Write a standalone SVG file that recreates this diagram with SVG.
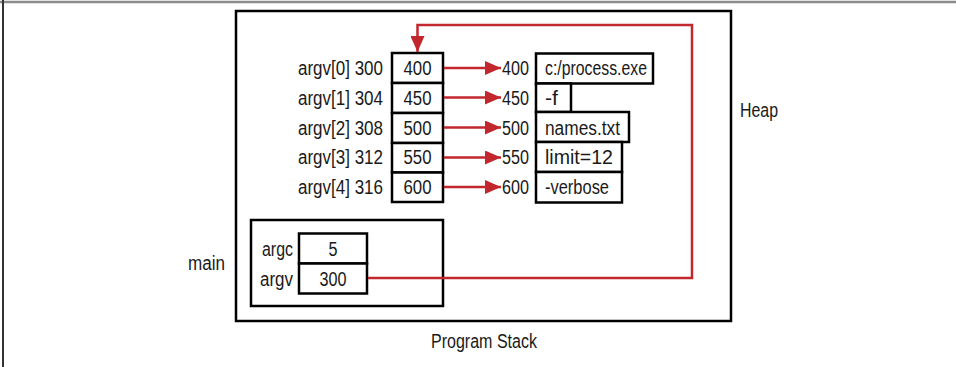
<svg xmlns="http://www.w3.org/2000/svg" width="956" height="367" viewBox="0 0 956 367">
<style>
text{font-family:"Liberation Sans",Arial,sans-serif;font-size:20px;fill:#1a1a1a}
.box{fill:#fff;stroke:#000;stroke-width:2.5}
.frame{fill:none;stroke:#000;stroke-width:2.5}
.conn{fill:none;stroke:#c1272d;stroke-width:2.5}
</style>
<defs>
<marker id="ah" viewBox="0 0 16 14" refX="16" refY="7" markerWidth="16" markerHeight="14" markerUnits="userSpaceOnUse" orient="auto">
<path d="M0,0L16,7L0,14z" fill="#c1272d"/>
</marker>
</defs>
<line x1="0" y1="2" x2="956" y2="2" stroke="#8c8c8c" stroke-width="2.5"/>
<line x1="3" y1="0" x2="3" y2="367" stroke="#333" stroke-width="2"/>
<g id="program-stack">
<rect class="frame" x="236" y="11" width="495" height="310"/>
<text x="431" y="348" textLength="106" lengthAdjust="spacingAndGlyphs">Program Stack</text>
</g>
<g id="heap-label"><text x="740" y="117" textLength="38" lengthAdjust="spacingAndGlyphs">Heap</text></g>
<g id="main-frame">
<rect class="frame" x="251" y="220" width="192" height="86"/>
<text x="188" y="270" textLength="37" lengthAdjust="spacingAndGlyphs">main</text>
</g>
<g id="argc">
<rect class="box" x="299" y="233.5" width="68" height="30"/>
<text x="262" y="256" textLength="31" lengthAdjust="spacingAndGlyphs">argc</text>
<text x="328.5" y="256" textLength="9" lengthAdjust="spacingAndGlyphs">5</text>
</g>
<g id="argv">
<rect class="box" x="299" y="263.5" width="68" height="30"/>
<text x="260" y="285.5" textLength="33" lengthAdjust="spacingAndGlyphs">argv</text>
<text x="319.5" y="285.5" textLength="27" lengthAdjust="spacingAndGlyphs">300</text>
</g>
<g id="argv0">
<rect class="box" x="392" y="53" width="51" height="30"/>
<text x="298" y="75" textLength="85" lengthAdjust="spacingAndGlyphs">argv[0] 300</text>
<text x="403.5" y="75" textLength="28" lengthAdjust="spacingAndGlyphs">400</text>
</g>
<g id="argv1">
<rect class="box" x="392" y="83" width="51" height="30"/>
<text x="298" y="104.5" textLength="85" lengthAdjust="spacingAndGlyphs">argv[1] 304</text>
<text x="403.5" y="104.5" textLength="28" lengthAdjust="spacingAndGlyphs">450</text>
</g>
<g id="argv2">
<rect class="box" x="392" y="113" width="51" height="30"/>
<text x="298" y="134.5" textLength="85" lengthAdjust="spacingAndGlyphs">argv[2] 308</text>
<text x="403.5" y="134.5" textLength="28" lengthAdjust="spacingAndGlyphs">500</text>
</g>
<g id="argv3">
<rect class="box" x="392" y="143" width="51" height="29.5"/>
<text x="298" y="164" textLength="85" lengthAdjust="spacingAndGlyphs">argv[3] 312</text>
<text x="403.5" y="164" textLength="28" lengthAdjust="spacingAndGlyphs">550</text>
</g>
<g id="argv4">
<rect class="box" x="392" y="172.5" width="51" height="29.5"/>
<text x="298" y="193.5" textLength="85" lengthAdjust="spacingAndGlyphs">argv[4] 316</text>
<text x="403.5" y="193.5" textLength="28" lengthAdjust="spacingAndGlyphs">600</text>
</g>
<g id="heap400">
<text x="502" y="75" textLength="27" lengthAdjust="spacingAndGlyphs">400</text>
<rect class="box" x="536" y="53.5" width="117" height="30"/>
<text x="545" y="75" textLength="102" lengthAdjust="spacingAndGlyphs">c:/process.exe</text>
</g>
<g id="heap450">
<text x="502" y="104.5" textLength="27" lengthAdjust="spacingAndGlyphs">450</text>
<rect class="box" x="536" y="83.5" width="35" height="28.5"/>
<text x="545" y="104.5" textLength="13" lengthAdjust="spacingAndGlyphs">-f</text>
</g>
<g id="heap500">
<text x="502" y="134.5" textLength="27" lengthAdjust="spacingAndGlyphs">500</text>
<rect class="box" x="536" y="112" width="93" height="30"/>
<text x="545" y="134.5" textLength="75" lengthAdjust="spacingAndGlyphs">names.txt</text>
</g>
<g id="heap550">
<text x="502" y="164" textLength="27" lengthAdjust="spacingAndGlyphs">550</text>
<rect class="box" x="536" y="142" width="86" height="30"/>
<text x="545" y="164" textLength="68" lengthAdjust="spacingAndGlyphs">limit=12</text>
</g>
<g id="heap600">
<text x="502" y="193.5" textLength="27" lengthAdjust="spacingAndGlyphs">600</text>
<rect class="box" x="536" y="172" width="86" height="30.5"/>
<text x="545" y="193.5" textLength="64" lengthAdjust="spacingAndGlyphs">-verbose</text>
</g>
<g id="connectors">
<line class="conn" x1="444" y1="68" x2="501" y2="68" marker-end="url(#ah)"/>
<line class="conn" x1="444" y1="97.5" x2="501" y2="97.5" marker-end="url(#ah)"/>
<line class="conn" x1="444" y1="127.5" x2="501" y2="127.5" marker-end="url(#ah)"/>
<line class="conn" x1="444" y1="157.5" x2="501" y2="157.5" marker-end="url(#ah)"/>
<line class="conn" x1="444" y1="187" x2="501" y2="187" marker-end="url(#ah)"/>
<polyline class="conn" points="368,278 692,278 692,25 417.5,25 417.5,52" marker-end="url(#ah)"/>
</g>
</svg>
